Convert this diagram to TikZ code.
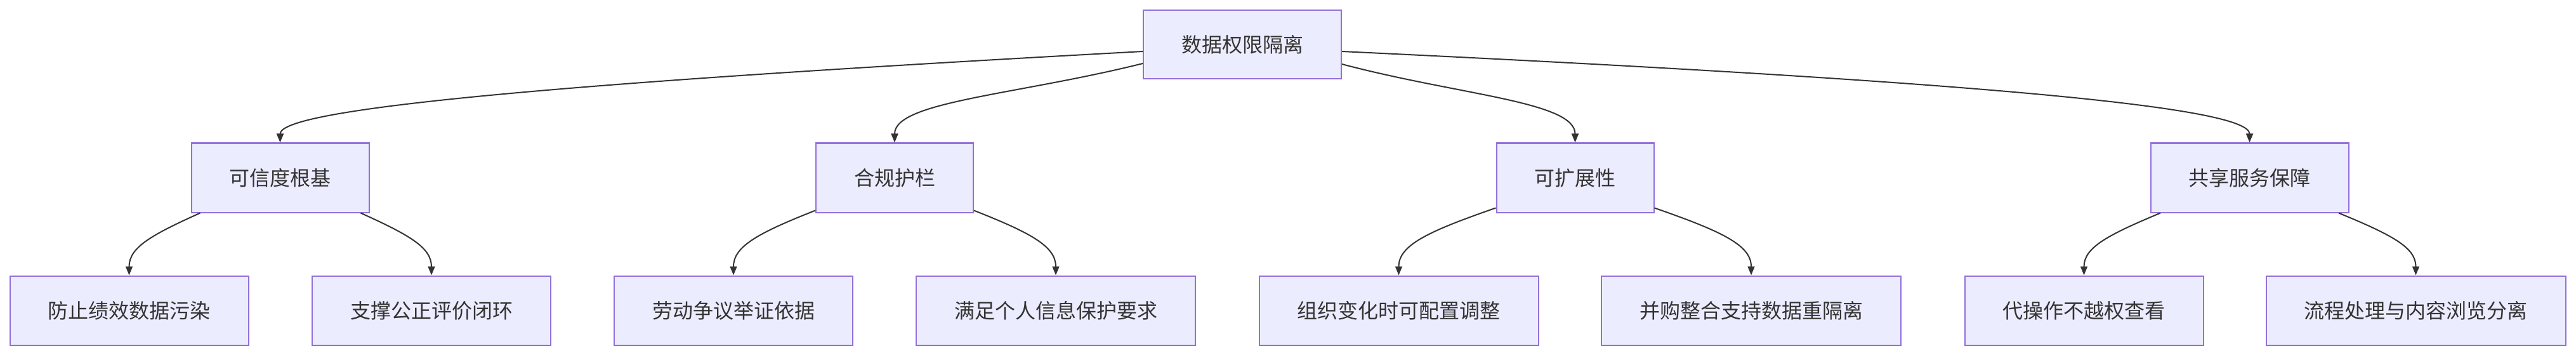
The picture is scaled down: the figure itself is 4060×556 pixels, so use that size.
\documentclass[tikz,border=0pt]{standalone}
\usepackage{fontspec}
\setmainfont{Noto Sans CJK SC}
\usetikzlibrary{arrows.meta,calc}
\definecolor{nodeborder}{HTML}{9370DB}
\definecolor{nodefill}{HTML}{ECECFF}
\definecolor{textgray}{HTML}{333333}
\tikzset{
  box/.style={draw=nodeborder, fill=nodefill, line width=2pt, inner xsep=60pt, inner ysep=0pt,
    minimum height=109pt, text=textgray, font=\fontsize{32pt}{38pt}\selectfont},
  edge/.style={draw=textgray, line width=2pt, -{Triangle[length=14pt,width=11pt]}},
}
\begin{document}
\begin{tikzpicture}[x=1pt,y=-1pt]
\fill[white] (0,0) rectangle (4060,556);
\useasboundingbox (0,0) rectangle (4060,556);
% root
\node[box, minimum height=108pt] (root) at (1958,70) {数据权限隔离};
% level 1
\node[box] (A) at (441.5,280) {可信度根基};
\node[box] (B) at (1410,280) {合规护栏};
\node[box] (C) at (2482.5,280) {可扩展性};
\node[box] (D) at (3545.5,280) {共享服务保障};
% level 2
\node[box] (a1) at (203.5,489) {防止绩效数据污染};
\node[box] (a2) at (680,489) {支撑公正评价闭环};
\node[box] (b1) at (1156,489) {劳动争议举证依据};
\node[box] (b2) at (1664,489) {满足个人信息保护要求};
\node[box] (c1) at (2204.5,489) {组织变化时可配置调整};
\node[box] (c2) at (2760,489) {并购整合支持数据重隔离};
\node[box] (d1) at (3284.5,489) {代操作不越权查看};
\node[box] (d2) at (3807.5,489) {流程处理与内容浏览分离};
% root edges
\draw[edge] ($(root.west)+(0,11)$) .. controls (900,130) and (441.5,170) .. (A.north);
\draw[edge] ($(root.west)+(0,30)$) .. controls (1600,150) and (1410,160) .. (B.north);
\draw[edge] ($(root.east)+(0,31)$) .. controls (2300,150) and (2482.5,160) .. (C.north);
\draw[edge] ($(root.east)+(0,11)$) .. controls (3150,130) and (3545.5,170) .. (D.north);
% level 1 -> level 2
\draw[edge] ($(A.south west)+(15,0)$) .. controls (237.5,370.5) and (203.5,390) .. (a1.north);
\draw[edge] ($(A.south east)+(-14,0)$) .. controls (646,370.5) and (680,390) .. (a2.north);
\draw[edge] ($(B.south west)+(0,-4)$) .. controls (1195,367) and (1156,388) .. (b1.north);
\draw[edge] ($(B.south east)+(0,-4)$) .. controls (1625,367) and (1664,388) .. (b2.north);
\draw[edge] ($(C.south west)+(0,-8)$) .. controls (2250.7,364.6) and (2204.5,386) .. (c1.north);
\draw[edge] ($(C.south east)+(0,-8)$) .. controls (2714,364.6) and (2760,386) .. (c2.north);
\draw[edge] ($(D.south west)+(16.5,0)$) .. controls (3321,370.5) and (3284.5,390) .. (d1.north);
\draw[edge] ($(D.south east)+(-16.5,0)$) .. controls (3771,370.5) and (3807.5,390) .. (d2.north);
\end{tikzpicture}
\end{document}
